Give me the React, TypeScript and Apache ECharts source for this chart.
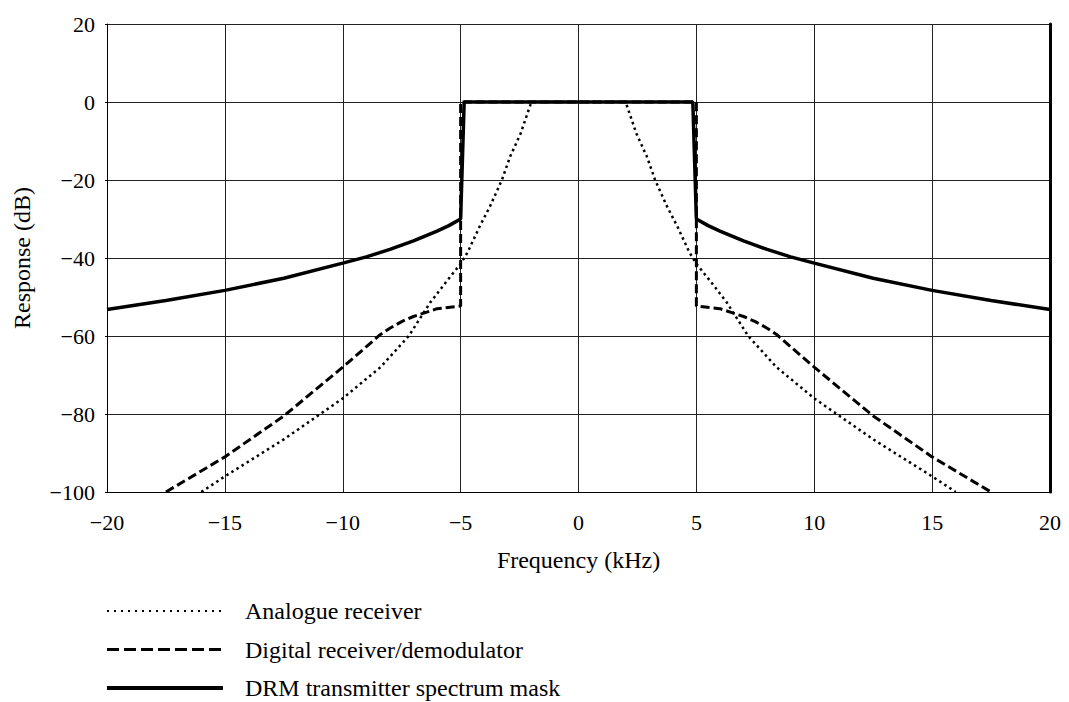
import React, { useEffect, useRef } from "react";
import * as echarts from "echarts";

const xTicks = [-20, -15, -10, -5, 0, 5, 10, 15, 20];
const yTicks = [20, 0, -20, -40, -60, -80, -100];

const analogueFreq = [-16, -15, -12.5, -10, -8.4, -7.2, -6.3, -5.6, -5.0, -4.7, -4.2, -3.75, -3.25, -2.9, -2.45, -2, 2, 2.45, 2.9, 3.25, 3.75, 4.2, 4.7, 5.0, 5.6, 6.3, 7.2, 8.4, 10, 12.5, 15, 16];
const analogueDb = [-100, -96, -86.5, -76, -68, -60, -51.5, -46, -41.5, -38.5, -32, -26.7, -20, -14, -8, 0, 0, -8, -14, -20, -26.7, -32, -38.5, -41.5, -46, -51.5, -60, -68, -76, -86.5, -96, -100];

const digitalFreq = [-17.5, -15, -12.5, -10, -9.2, -8.4, -8, -7.5, -7, -6.5, -6, -5, -5, 5, 5, 6, 6.5, 7, 7.5, 8, 8.4, 9.2, 10, 12.5, 15, 17.5];
const digitalDb = [-100, -91, -80.5, -68, -63.8, -59.6, -58, -56.3, -55, -54, -53, -52.3, 0, 0, -52.3, -53, -54, -55, -56.3, -58, -59.6, -63.8, -68, -80.5, -91, -100];

const maskFreq = [-20, -17.5, -15, -12.5, -10, -9, -8, -7, -6, -5.5, -5, -4.85, 4.85, 5, 5.5, 6, 7, 8, 9, 10, 12.5, 15, 17.5, 20];
const maskDb = [-53.2, -50.9, -48.3, -45.2, -41.3, -39.7, -37.8, -35.6, -33.1, -31.7, -30, 0, 0, -30, -31.7, -33.1, -35.6, -37.8, -39.7, -41.3, -45.2, -48.3, -50.9, -53.2];

const seriesNames = ["Analogue receiver", "Digital receiver/demodulator", "DRM transmitter spectrum mask"];

const FONT = "'Liberation Serif', 'DejaVu Serif', serif";

function pairs(xs: number[], ys: number[]) {
  return xs.map((x, i) => [x, ys[i]]);
}

export default function App() {
  const ref = useRef<HTMLDivElement>(null);
  useEffect(() => {
    if (!ref.current) return;
    const chart = echarts.init(ref.current, undefined, { renderer: "svg" });
    const fmt = (v: number) => (v < 0 ? "\u2212" + Math.abs(v) : String(v));
    const legendY = [611, 649.5, 688];
    const legendStyles = [
      { lineDash: [2, 5], lineWidth: 2 },
      { lineDash: [12, 5], lineWidth: 3 },
      { lineDash: null as any, lineWidth: 4 },
    ];
    const graphics: any[] = [];
    seriesNames.forEach((name, i) => {
      graphics.push({
        type: "line",
        shape: { x1: 107, y1: legendY[i], x2: 223, y2: legendY[i] },
        style: { stroke: "#000", lineWidth: legendStyles[i].lineWidth, lineDash: legendStyles[i].lineDash },
      });
      graphics.push({
        type: "text",
        x: 245,
        y: legendY[i],
        style: { text: name, fill: "#000", fontFamily: FONT, fontSize: 24, verticalAlign: "middle", align: "left" },
      });
    });
    chart.setOption({
      animation: false,
      backgroundColor: "#fff",
      grid: { left: 107, top: 24, width: 943, height: 468 },
      xAxis: {
        type: "value",
        min: -20,
        max: 20,
        interval: 5,
        name: "Frequency (kHz)",
        nameLocation: "middle",
        nameGap: 56,
        nameTextStyle: { fontFamily: FONT, fontSize: 24, color: "#000" },
        axisLine: { show: true, onZero: false, lineStyle: { color: "#000", width: 1 } },
        axisTick: { show: false },
        axisLabel: { fontFamily: FONT, fontSize: 22, color: "#000", margin: 19, formatter: fmt },
        splitLine: { show: true, lineStyle: { color: "#222", width: 1 } },
      },
      yAxis: [
        {
          type: "value",
          min: -100,
          max: 20,
          interval: 20,
          name: "Response (dB)",
          nameLocation: "middle",
          nameGap: 73,
          nameRotate: 90,
          nameTextStyle: { fontFamily: FONT, fontSize: 24, color: "#000" },
          axisLine: { show: true, onZero: false, lineStyle: { color: "#000", width: 1 } },
          axisTick: { show: true, length: 2, lineStyle: { color: "#000" } },
          axisLabel: { fontFamily: FONT, fontSize: 22, color: "#000", margin: 12, formatter: fmt },
          splitLine: { show: true, lineStyle: { color: "#222", width: 1 } },
        },
        {
          type: "value",
          min: -100,
          max: 20,
          interval: 20,
          position: "right",
          axisLine: { show: true, onZero: false, lineStyle: { color: "#000", width: 3 } },
          axisTick: { show: false },
          axisLabel: { show: false },
          splitLine: { show: false },
        },
      ],
      series: [
        {
          name: seriesNames[0],
          type: "line",
          showSymbol: false,
          symbol: "none",
          data: pairs(analogueFreq, analogueDb),
          lineStyle: { color: "#000", width: 2.5, type: [2.5, 3.5] },
          z: 2,
        },
        {
          name: seriesNames[1],
          type: "line",
          showSymbol: false,
          symbol: "none",
          data: pairs(digitalFreq, digitalDb),
          lineStyle: { color: "#000", width: 3, type: [9, 4] },
          z: 3,
        },
        {
          name: seriesNames[2],
          type: "line",
          showSymbol: false,
          symbol: "none",
          data: pairs(maskFreq, maskDb),
          lineStyle: { color: "#000", width: 3.5, type: "solid" },
          z: 4,
        },
      ],
      graphic: graphics,
    });
    return () => chart.dispose();
  }, []);
  return (
    <div
      ref={ref}
      style={{ position: "absolute", left: 0, top: 0, width: 1069, height: 702, background: "#fff" }}
    />
  );
}
